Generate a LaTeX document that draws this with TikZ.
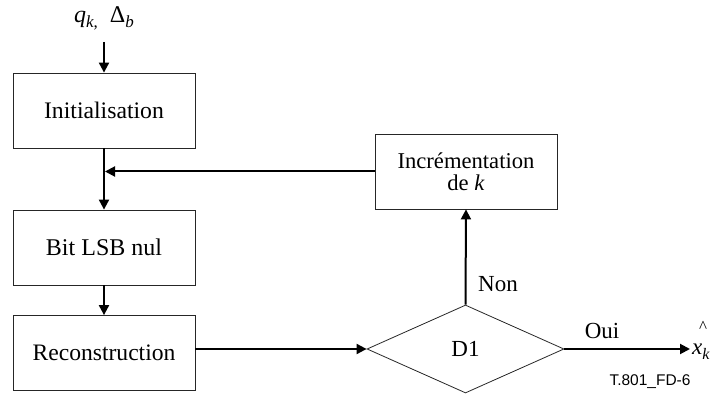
\documentclass[tikz,border=0pt]{standalone}
\usepackage{fontspec}
\setmainfont{Liberation Serif}
\newfontfamily\arialfont{Liberation Sans}
\usetikzlibrary{arrows.meta,shapes.geometric}
\newcommand{\fs}[1]{\fontsize{#1}{#1}\selectfont}
\begin{document}
\begin{tikzpicture}[x=1pt,y=-1pt,
  box/.style={draw=black!85, line width=0.8pt, minimum width=182pt, minimum height=75pt, inner sep=0pt, font=\fontsize{23}{24}\selectfont, align=center},
  arr/.style={line width=2pt, -{Triangle[length=10pt,width=10pt]}},
  lbl/.style={font=\fontsize{23}{24}\selectfont, inner sep=0pt}]
\useasboundingbox (0,0) rectangle (721,403);
\node[box, font=\fs{23.7}] (init) at (104,110.5) {Initialisation};
\node[box, font=\fs{24}] (bit) at (104,247.5) {Bit LSB nul};
\node[box, font=\fs{23.6}] (rec) at (104,353) {Reconstruction};
\node[box, font=\fs{22.6}] (inc) at (466,171.5) {Incrémentation\\[-1pt]de \textit{k}};
\node[draw=black!85, line width=0.8pt, diamond, minimum width=197pt, minimum height=88pt, inner sep=0pt, font=\fs{23}] (d1) at (465.5,349) {D1};
\node[lbl, anchor=base, font=\fs{24}] (top) at (104,23) {\textit{q}\raisebox{-5pt}{\fs{17}\textit{k},}\,\,\,Δ\raisebox{-5pt}{\fs{17}\textit{b}}};
\coordinate (tin) at (104,42);
\coordinate (out) at (690,349);
\node[lbl] (non) at (498,284) {Non};
\node[lbl] (oui) at (602,331) {Oui};
\node[lbl, anchor=base west] (xk) at (692,355) {\textit{x}\raisebox{-5pt}{\fs{16}\textit{k}}};
\node[lbl] (hat) at (703,327) {\fs{17}\^{}};
\node[inner sep=0pt, font=\arialfont\fs{15.5}] (ref) at (650,382) {T.801\_FD-6};
\draw[arr] (tin) -- (init.north);
\draw[arr] (init) -- (bit);
\draw[arr] (bit) -- (rec);
\draw[arr, shorten >=1pt] (inc.west) -- (inc.west -| init.south);
\draw[arr] (rec.east |- d1.west) -- (d1.west);
\draw[arr] (d1.north) -- (inc.south);
\draw[arr] (d1.east) -- (out);
\end{tikzpicture}
\end{document}
